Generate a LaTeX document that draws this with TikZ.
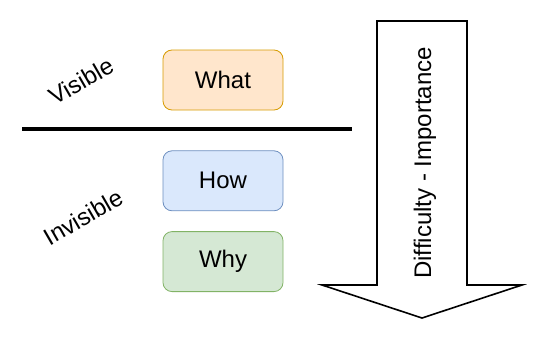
\documentclass[tikz,border=0pt]{standalone}
\usepackage{fontspec}
\setmainfont{Liberation Sans}
\usetikzlibrary{positioning}
\definecolor{wfill}{HTML}{FFE6CC}
\definecolor{wdraw}{HTML}{D79B00}
\definecolor{hfill}{HTML}{DAE8FC}
\definecolor{hdraw}{HTML}{6C8EBF}
\definecolor{yfill}{HTML}{D5E8D4}
\definecolor{ydraw}{HTML}{82B366}
\tikzset{
  box/.style = {rectangle, rounded corners=9pt, minimum width=120pt,
    minimum height=60pt, inner sep=0pt, line width=0.8pt,
    font=\fontsize{24}{28}\selectfont},
  wbox/.style = {box, draw=wdraw, fill=wfill},
  hbox/.style = {box, draw=hdraw, fill=hfill},
  ybox/.style = {box, draw=ydraw, fill=yfill},
  lbl/.style = {font=\fontsize{24}{28}\selectfont, rotate=30},
  sep/.style = {draw=black, line width=3.5pt},
  bigarr/.style = {draw=black, fill=white, line width=1.6pt, line join=miter}
}
\begin{document}
\begin{tikzpicture}[x=1pt, y=-1pt]
  \useasboundingbox (0,0) rectangle (540,340);

  % layers
  \node [wbox] (what) at (223,80) {What};
  \node [hbox, below=40pt of what] (how) {How};
  \node [ybox, below=20pt of how] (why) {Why};

  \coordinate (sl) at (22,129);
  \coordinate (sr) at (352,129);
  \draw [sep] (sl) -- (sr);

  \node [lbl] (vis) at (81,81) {Visible};
  \node [lbl] (invis) at (83,217) {Invisible};

  % big arrow
  \draw [bigarr] (377,21) -- (467,21) -- (467,285) -- (522,285)
    -- (422,318) -- (322,285) -- (377,285) -- cycle;
  \node [font=\fontsize{24}{28}\selectfont, rotate=90] (axis) at (425,163)
    {Difficulty - Importance};
\end{tikzpicture}
\end{document}
